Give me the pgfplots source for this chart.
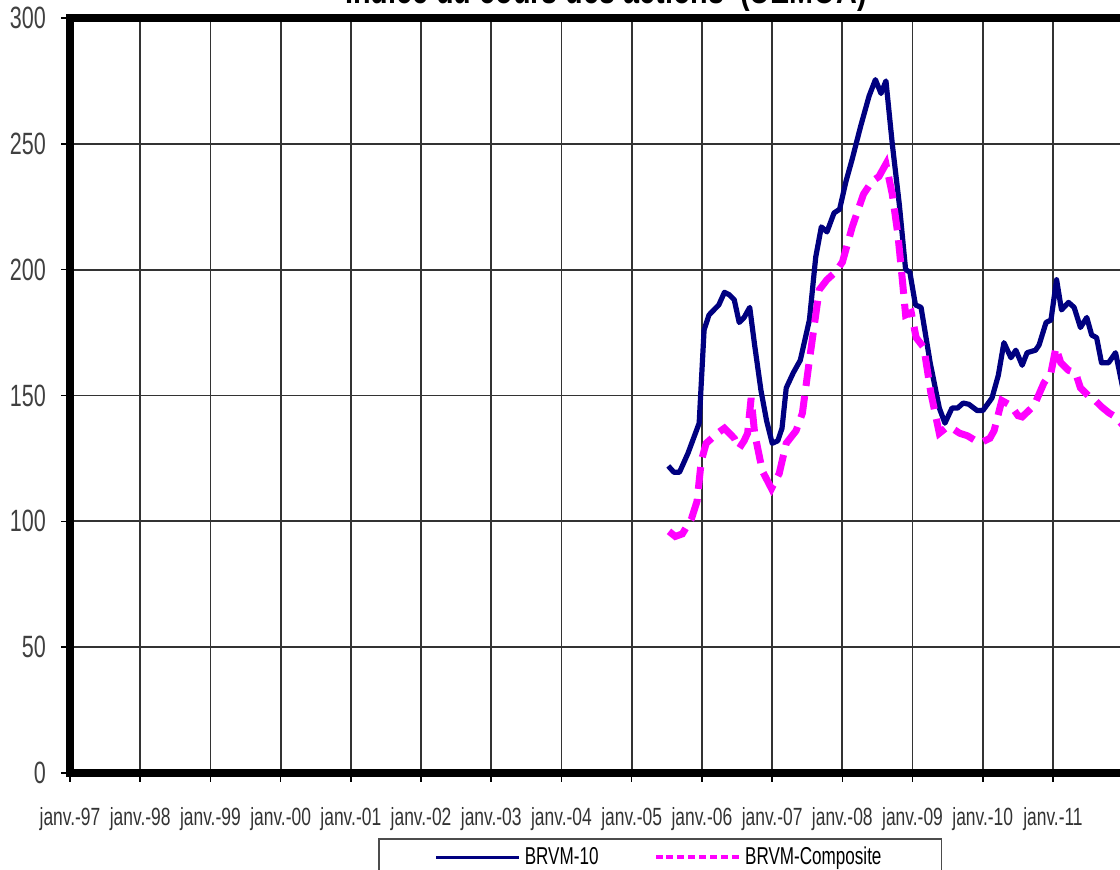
\documentclass[border=0pt]{standalone}
\usepackage{pgfplots}
\pgfplotsset{compat=1.18}
\usepackage{fontspec}
\setmainfont{Liberation Sans}[FakeStretch=0.7]
\newfontfamily\titlefont{Liberation Sans}[FakeStretch=0.75]
\definecolor{brvmnavy}{RGB}{0,0,128}
\definecolor{brvmpink}{RGB}{255,0,255}

\begin{document}
\begin{tikzpicture}
\begin{axis}[
  scale only axis, width=544.2pt, height=377.5pt,
  xmin=1997, xmax=2012.5, ymin=0, ymax=300,
  xtick={1997,...,2011},
  xticklabels={janv.-97,janv.-98,janv.-99,janv.-00,janv.-01,janv.-02,janv.-03,janv.-04,janv.-05,janv.-06,janv.-07,janv.-08,janv.-09,janv.-10,janv.-11},
  ytick={0,50,...,300},
  grid=major,
  major grid style={black!80, line width=0.9pt},
  axis line style={line width=4pt},
  tick pos=left, tick align=outside, major tick length=4.5pt,
  tick style={black, line width=0.8pt},
  /pgf/number format/assume math mode=true,
  xticklabel style={font=\fontsize{12.45}{14}\selectfont, text=black!80, anchor=base, yshift=-22pt},
  yticklabel style={font=\fontsize{15.4}{17}\selectfont, text=black!75, xshift=-4pt},
  title={Indice du cours des actions \ (UEMOA)},
  title style={at={(0.4924,1)}, anchor=base, yshift=1pt, font=\titlefont\bfseries\fontsize{19.2}{21}\selectfont},
  legend columns=2,
  legend image code/.code={\path (0pt,0pt) -- (5pt,0pt); \draw[#1] (5pt,0pt) -- (41.5pt,0pt);},
  legend style={at={(0.283,0)}, anchor=north west, yshift=-32.5pt,
    draw=black!70, line width=0.8pt, font=\fontsize{12.2}{14}\selectfont,
    inner xsep=28pt, inner ysep=2pt,
    /tikz/every even column/.append style={column sep=26pt}},
]
\addplot[brvmnavy, line width=2.6pt, line join=round, forget plot] coordinates {
(2005.52,122) (2005.60,119.5) (2005.68,119.5) (2005.80,127) (2005.96,139)
(2006.03,176) (2006.10,182) (2006.17,184) (2006.24,186) (2006.32,191)
(2006.39,190) (2006.46,188) (2006.53,179) (2006.60,181) (2006.68,185)
(2006.75,170) (2006.84,152) (2006.92,140) (2007.00,131) (2007.08,132)
(2007.14,137) (2007.20,153) (2007.30,159) (2007.40,164) (2007.53,180)
(2007.62,205) (2007.70,217) (2007.78,215) (2007.88,222.5) (2007.96,224)
(2008.05,235) (2008.14,244) (2008.26,257) (2008.38,269) (2008.47,275.5)
(2008.55,270) (2008.62,275) (2008.71,250) (2008.81,226) (2008.90,200)
(2008.96,199) (2009.04,186) (2009.12,185) (2009.25,163) (2009.38,145)
(2009.46,139) (2009.56,145) (2009.64,145) (2009.72,147) (2009.80,146.5)
(2009.92,144) (2010.00,144) (2010.13,149) (2010.22,158) (2010.30,171)
(2010.40,165) (2010.47,168) (2010.56,162) (2010.63,167) (2010.75,168)
(2010.80,170) (2010.90,179) (2010.97,180) (2011.05,196) (2011.12,184)
(2011.22,187) (2011.30,185) (2011.39,177) (2011.48,181) (2011.55,174)
(2011.62,173) (2011.69,163) (2011.79,163) (2011.89,167) (2012.00,152)
};
\addplot[brvmpink, line width=3.5pt, dash pattern=on 11pt off 5pt, forget plot] coordinates {
(2005.53,96) (2005.62,94) (2005.72,95) (2005.85,101) (2005.93,108)
(2005.99,124) (2006.06,131) (2006.14,133) (2006.22,135) (2006.32,137)
(2006.39,135) (2006.46,133) (2006.53,129) (2006.60,132) (2006.65,135)
(2006.70,149) (2006.75,135) (2006.86,120) (2006.99,113) (2007.10,119)
(2007.20,131) (2007.34,136) (2007.43,143) (2007.53,164) (2007.67,192)
(2007.78,196) (2007.90,199) (2008.00,203) (2008.14,217) (2008.30,230)
(2008.42,235) (2008.52,237) (2008.62,242) (2008.71,230) (2008.79,214)
(2008.85,197) (2008.90,182) (2008.98,183) (2009.05,173) (2009.16,169)
(2009.26,151) (2009.38,135) (2009.47,137) (2009.56,137) (2009.67,135)
(2009.78,134) (2009.90,132) (2009.99,131.5) (2010.10,133) (2010.16,136)
(2010.27,148) (2010.40,146) (2010.50,142) (2010.56,141.5) (2010.73,146)
(2010.87,155) (2010.97,159) (2011.04,169) (2011.11,163) (2011.22,160)
(2011.32,159) (2011.39,153) (2011.50,150) (2011.60,148) (2011.69,145.5)
(2011.80,143) (2011.89,141.5) (2012.00,138)
};
\addlegendimage{brvmnavy, line width=1.5pt}
\addlegendentry{BRVM-10}
\addlegendimage{brvmpink, line width=1.8pt, dash pattern=on 3.5pt off 2pt}
\addlegendentry{BRVM-Composite}
\end{axis}
\pgfresetboundingbox
\path[use as bounding box] ([xshift=-35pt,yshift=-48.5pt]current axis.south west)
  rectangle ([xshift=525pt,yshift=9pt]current axis.north west);
\end{tikzpicture}
\end{document}
